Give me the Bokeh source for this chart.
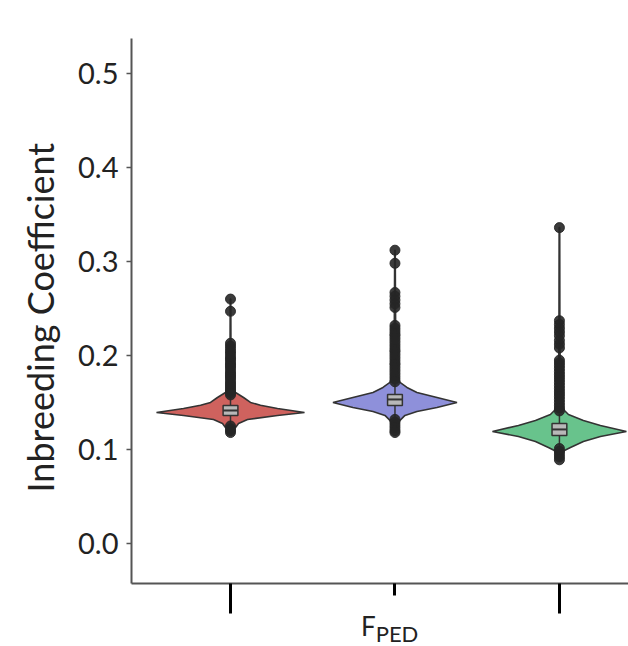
import math
from bokeh.plotting import figure
from bokeh.layouts import column
from bokeh.models import FixedTicker, PrintfTickFormatter, Range1d, Title, Div
from bokeh.embed import file_html
from bokeh.resources import INLINE

groups = ["Group 1", "Group 2", "Group 3"]
colors = ["#CF625E", "#8E90DA", "#68C38C"]

# violin profiles: inbreeding value and relative density (width)
red_y = [0.117, 0.121, 0.1234, 0.1277, 0.1319, 0.1362, 0.1394, 0.1436, 0.147, 0.150, 0.1553, 0.1606, 0.166, 0.18, 0.21, 0.26]
red_density = [0.008, 0.04, 0.068, 0.108, 0.23, 0.635, 1.0, 0.635, 0.405, 0.27, 0.176, 0.068, 0.034, 0.012, 0.006, 0.004]
blue_y = [0.118, 0.125, 0.1309, 0.1362, 0.1404, 0.1447, 0.150, 0.1553, 0.1606, 0.166, 0.1713, 0.18, 0.22, 0.27, 0.312]
blue_density = [0.008, 0.034, 0.068, 0.135, 0.297, 0.568, 0.838, 0.568, 0.297, 0.162, 0.068, 0.030, 0.010, 0.006, 0.004]
green_y = [0.088, 0.093, 0.0989, 0.1021, 0.1085, 0.1138, 0.1191, 0.1255, 0.1309, 0.1372, 0.1415, 0.15, 0.19, 0.24, 0.336]
green_density = [0.008, 0.034, 0.068, 0.149, 0.324, 0.554, 0.905, 0.554, 0.324, 0.122, 0.068, 0.030, 0.010, 0.006, 0.004]

# box plot statistics
box_q1 = [0.1362, 0.1468, 0.1149]
box_median = [0.1415, 0.1532, 0.1213]
box_q3 = [0.1468, 0.1585, 0.1277]
whisker_low = [0.127, 0.134, 0.104]
whisker_high = [0.157, 0.170, 0.138]

# outliers
red_outliers = [0.260, 0.247, 0.213, 0.210, 0.207, 0.204, 0.202, 0.199, 0.197, 0.195, 0.192, 0.190,
                0.188, 0.186, 0.183, 0.181, 0.179, 0.177, 0.175, 0.172, 0.170, 0.168, 0.166, 0.164,
                0.162, 0.160, 0.158, 0.125, 0.122, 0.120, 0.118]
blue_outliers = [0.312, 0.298, 0.267, 0.263, 0.259, 0.255, 0.251, 0.232, 0.229, 0.226, 0.223, 0.221,
                 0.218, 0.215, 0.212, 0.209, 0.206, 0.204, 0.201, 0.198, 0.195, 0.192, 0.190, 0.187,
                 0.184, 0.181, 0.178, 0.175, 0.172, 0.132, 0.129, 0.126, 0.123, 0.120, 0.118]
green_outliers = [0.336, 0.237, 0.233, 0.229, 0.225, 0.221, 0.216, 0.212, 0.208, 0.195, 0.192, 0.189,
                  0.186, 0.183, 0.180, 0.177, 0.174, 0.171, 0.168, 0.165, 0.162, 0.159, 0.156, 0.153,
                  0.150, 0.147, 0.144, 0.141, 0.101, 0.098, 0.095, 0.092, 0.089]

y_ticks = [0.0, 0.1, 0.2, 0.3, 0.4, 0.5]

profiles = [(red_y, red_density), (blue_y, blue_density), (green_y, green_density)]
outliers = [red_outliers, blue_outliers, green_outliers]

W, H = 628, 615
p = figure(width=W, height=H, output_backend="svg", toolbar_location=None,
           x_range=Range1d(0.398, 3.42), y_range=Range1d(-0.0426, 0.5372),
           min_border_left=131, min_border_right=0, min_border_top=38, min_border_bottom=32)
p.background_fill_color = "white"
p.border_fill_color = "white"
p.outline_line_color = None
p.xgrid.visible = False
p.ygrid.visible = False

half = 0.45
box_w = 0.09
for i, (ys, dens) in enumerate(profiles):
    c = i + 1
    xs = [c + d * half for d in dens] + [c - d * half for d in reversed(dens)]
    yy = list(ys) + list(reversed(ys))
    p.patch(xs, yy, fill_color=colors[i], line_color="#333333", line_width=1.6)

centers = [i + 1 for i in range(len(groups))]
p.segment(x0=centers, y0=whisker_low, x1=centers, y1=box_q1, line_color="#333333", line_width=1.5)
p.segment(x0=centers, y0=box_q3, x1=centers, y1=whisker_high, line_color="#333333", line_width=1.5)

for i, vals in enumerate(outliers):
    p.scatter([i + 1] * len(vals), vals, size=10, fill_color="#262626", line_color="#262626",
              fill_alpha=0.9, line_alpha=0.9)

p.quad(left=[c - box_w / 2 for c in centers], right=[c + box_w / 2 for c in centers],
       bottom=box_q1, top=box_q3, fill_color="#B8B8B8", line_color="#333333", line_width=1.5)
p.segment(x0=[c - box_w / 2 for c in centers], y0=box_median, x1=[c + box_w / 2 for c in centers],
          y1=box_median, line_color="#333333", line_width=2)

# axes
xa = p.xaxis[0]
xa.ticker = FixedTicker(ticks=[1, 3], minor_ticks=[2])
xa.major_tick_in = 0
xa.major_tick_out = 30
xa.major_tick_line_width = 3
xa.major_tick_line_color = "black"
xa.minor_tick_in = 0
xa.minor_tick_out = 12
xa.minor_tick_line_width = 3
xa.minor_tick_line_color = "black"
xa.major_label_text_font_size = "1px"
xa.major_label_text_color = None
xa.major_label_standoff = 0
xa.axis_line_color = "#555555"
xa.axis_line_width = 2

ya = p.yaxis[0]
ya.ticker = FixedTicker(ticks=y_ticks, minor_ticks=[])
ya.formatter = PrintfTickFormatter(format="%.1f")
ya.major_tick_in = 0
ya.major_tick_out = 5
ya.major_tick_line_color = "#555555"
ya.major_tick_line_width = 1.5
ya.minor_tick_line_color = None
ya.major_label_text_font = "Lato"
ya.major_label_text_font_size = "29px"
ya.major_label_text_color = "#222222"
ya.major_label_standoff = 8
ya.axis_line_color = "#555555"
ya.axis_line_width = 2

p.add_layout(Title(text="Inbreeding Coefficient", align="left", offset=91,
                   text_font="Lato", text_font_size="36px", text_font_style="normal",
                   text_color="#222222", standoff=28), "left")

xlabel = Div(text='F<span style="font-size:22px; position:relative; top:6px;">PED</span>',
             width=200, height=31, margin=(0, 0, 0, 361),
             styles={"font-family": "Lato", "font-size": "26px", "color": "#222222",
                     "line-height": "22px"})

layout = column(p, xlabel, spacing=0)

open("out.html", "w").write(file_html(layout, INLINE))
